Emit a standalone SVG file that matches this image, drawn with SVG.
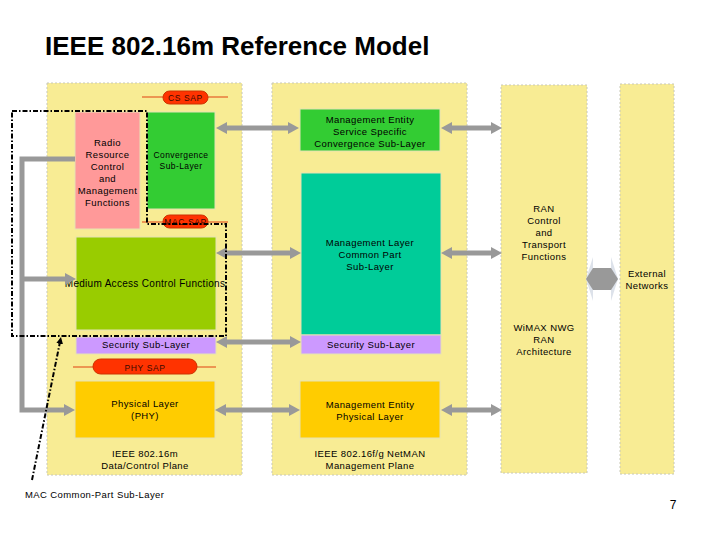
<svg xmlns="http://www.w3.org/2000/svg" width="720" height="540" viewBox="0 0 720 540">
<style>
text{font-family:"Liberation Sans",Arial,sans-serif;fill:#000;}
.t{font-size:9.5px;letter-spacing:0.4px;text-anchor:middle;}
.s{font-size:8.5px;letter-spacing:0.4px;text-anchor:middle;}
.sap{font-size:8.5px;letter-spacing:0.6px;text-anchor:middle;fill:#3a0a00;}
.panel{fill:#f8ec94;stroke:#c8c8b8;stroke-width:1;stroke-dasharray:2 2;}
.box{stroke:#e6e2b4;stroke-width:1;}
.pill{fill:#ff3300;stroke:#cc3300;stroke-width:1;}
.sapline{stroke:#e04010;stroke-width:1;}
.arr{fill:none;stroke:#999999;stroke-width:5;marker-start:url(#ah);marker-end:url(#ah);}
.conn{fill:none;stroke:#999999;stroke-width:5;}
.dd{fill:none;stroke:#000;stroke-width:2;stroke-dasharray:5 2 1.5 2;}
</style>
<defs>
<marker id="ah" viewBox="0 0 11 12" refX="0" refY="6" markerWidth="11" markerHeight="12" markerUnits="userSpaceOnUse" orient="auto-start-reverse"><path d="M0,0 L11,6 L0,12 z" fill="#999999"/></marker>
<marker id="bh" viewBox="0 0 7 7" refX="0" refY="3.5" markerWidth="7" markerHeight="7" markerUnits="userSpaceOnUse" orient="auto"><path d="M0,0 L7,3.5 L0,7 z" fill="#000"/></marker>
</defs>
<rect width="720" height="540" fill="#fff"/>
<text x="45" y="55" style="font-size:26px;font-weight:bold;">IEEE 802.16m Reference Model</text>

<g id="panel-data">
<rect class="panel" x="47" y="83" width="195" height="392"/>
<text class="t" x="145" y="456.5">IEEE 802.16m</text>
<text class="t" x="145" y="468.5">Data/Control Plane</text>
</g>
<g id="panel-mgmt">
<rect class="panel" x="272" y="83" width="195" height="392"/>
<text class="t" x="370" y="456.5">IEEE 802.16f/g NetMAN</text>
<text class="t" x="370" y="468.5">Management Plane</text>
</g>
<g id="panel-ran">
<rect class="panel" x="501" y="85" width="86" height="388"/>
<text class="t" x="544" y="211.5">RAN</text>
<text class="t" x="544" y="223.5">Control</text>
<text class="t" x="544" y="235.5">and</text>
<text class="t" x="544" y="247.5">Transport</text>
<text class="t" x="544" y="259.5">Functions</text>
<text class="t" x="544" y="330.5">WiMAX NWG</text>
<text class="t" x="544" y="342.5">RAN</text>
<text class="t" x="544" y="354.5">Architecture</text>
</g>
<g id="panel-external">
<rect class="panel" x="620" y="84" width="54" height="390"/>
<text class="t" x="647" y="276.5">External</text>
<text class="t" x="647" y="288.5">Networks</text>
</g>

<g id="cs-sap">
<line class="sapline" x1="142" y1="97" x2="228" y2="97"/>
<rect class="pill" x="163" y="91" width="45" height="13" rx="6.5"/>
<text class="sap" x="185.5" y="100.5">CS SAP</text>
</g>
<g id="rrc">
<rect class="box" x="75" y="112" width="65" height="117" fill="#ff9999"/>
<text class="t" x="107.5" y="145.5">Radio</text>
<text class="t" x="107.5" y="157.5">Resource</text>
<text class="t" x="107.5" y="169.5">Control</text>
<text class="t" x="107.5" y="181.5">and</text>
<text class="t" x="107.5" y="193.5">Management</text>
<text class="t" x="107.5" y="205.5">Functions</text>
</g>
<g id="convergence">
<rect class="box" x="147" y="112" width="68" height="97" fill="#33cc33"/>
<text class="s" x="181" y="158">Convergence</text>
<text class="s" x="181" y="169">Sub-Layer</text>
</g>
<g id="mac-sap">
<line class="sapline" x1="142" y1="222" x2="228" y2="222"/>
<rect class="pill" x="163" y="215" width="45" height="13" rx="6.5"/>
<text class="sap" x="185.5" y="224.5">MAC SAP</text>
</g>
<g id="mac-functions">
<rect class="box" x="76" y="237" width="140" height="93" fill="#99cc00"/>
<text x="145" y="286.5" style="font-size:10px;letter-spacing:0.3px;text-anchor:middle;">Medium Access Control Functions</text>
</g>
<g id="security-data">
<rect class="box" x="76" y="337" width="140" height="17" fill="#cc99ff"/>
<text class="t" x="146" y="347.5">Security Sub-Layer</text>
</g>
<g id="phy-sap">
<line class="sapline" x1="73" y1="367" x2="216" y2="367"/>
<rect class="pill" x="93" y="359" width="104" height="15" rx="7.5"/>
<text class="sap" x="145" y="370.5">PHY SAP</text>
</g>
<g id="phy">
<rect class="box" x="75" y="381" width="140" height="57" fill="#ffcc00"/>
<text class="t" x="145" y="406.5">Physical Layer</text>
<text class="t" x="145" y="418.5">(PHY)</text>
</g>

<g id="me-sscs">
<rect class="box" x="300" y="109" width="140" height="42" fill="#33cc33"/>
<text class="t" x="370" y="122.5">Management Entity</text>
<text class="t" x="370" y="134.5">Service Specific</text>
<text class="t" x="370" y="146.5">Convergence Sub-Layer</text>
</g>
<g id="ml-cps">
<rect class="box" x="301" y="173" width="140" height="162" fill="#00cc99"/>
<text class="t" x="370" y="245.5">Management Layer</text>
<text class="t" x="370" y="257.5">Common Part</text>
<text class="t" x="370" y="269.5">Sub-Layer</text>
</g>
<g id="security-mgmt">
<rect class="box" x="301" y="335" width="140" height="19" fill="#cc99ff"/>
<text class="t" x="371" y="347.5">Security Sub-Layer</text>
</g>
<g id="me-phy">
<rect class="box" x="300" y="381" width="140" height="57" fill="#ffcc00"/>
<text class="t" x="370" y="407.5">Management Entity</text>
<text class="t" x="370" y="419.5">Physical Layer</text>
</g>

<g id="connectors">
<path class="arr" d="M227,128 H288"/>
<path class="arr" d="M227,253 H290"/>
<path class="arr" d="M227,342 H290"/>
<path class="arr" d="M226,410 H289"/>
<path class="arr" d="M452,128 H491"/>
<path class="arr" d="M452,253 H491"/>
<path class="arr" d="M452,410 H491"/>
<path class="conn" d="M75,159 H22 V410 H64" marker-end="url(#ah)"/>
<path class="conn" d="M22,279 H65" marker-end="url(#ah)"/>
<polygon points="586,279 593,257 593,268 611,268 611,257 618,279 611,301 611,290 593,290 593,301" fill="#dde2ea"/>
<polygon points="586,279 593,268 611,268 618,279 611,290 593,290" fill="#999999"/>
<path class="dd" d="M12,111 H147 V224 H226 V336 H12 Z"/>
<path class="dd" d="M32,480 L59.6,343.9" marker-end="url(#bh)"/>
</g>
<text x="25" y="497.5" style="font-size:9.5px;letter-spacing:0.4px;">MAC Common-Part Sub-Layer</text>
<text x="673" y="508.5" style="font-size:12px;text-anchor:middle;">7</text>
</svg>
